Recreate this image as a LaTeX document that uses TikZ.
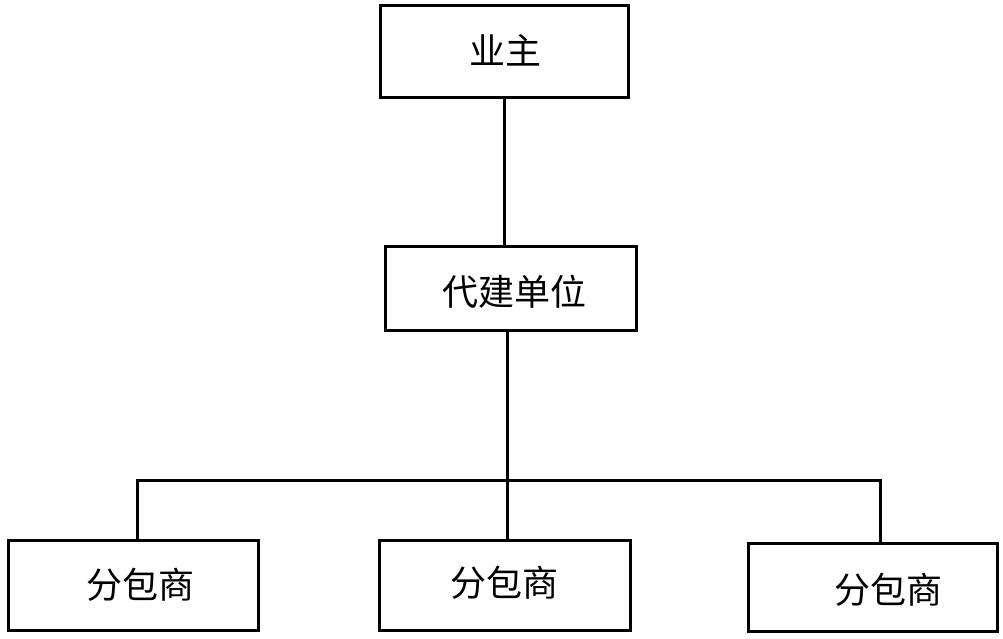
\documentclass[tikz,border=0pt]{standalone}
\usepackage{fontspec}
\setmainfont{Noto Sans CJK SC}
\begin{document}
\begin{tikzpicture}[x=1pt,y=1pt,
  box/.style={draw=black, line width=3pt, minimum width=#1, inner sep=0pt},
  lbl/.style={font=\fontsize{36}{40}\selectfont, inner sep=0pt},
  conn/.style={draw=black, line width=3pt}]
\useasboundingbox (0,0) rectangle (1003,-639);
\node[box=248pt, minimum height=92pt] (top) at (504,-52) {};
\node[box=251pt, minimum height=84pt] (mid) at (510.5,-288) {};
\node[box=250pt, minimum height=90pt] (b1) at (133,-585) {};
\node[box=251pt, minimum height=90pt] (b2) at (504.5,-585) {};
\node[box=249pt, minimum height=88pt] (b3) at (872.5,-587) {};
\node[lbl] (t0) at (505,-50) {业主};
\node[lbl] (t1) at (514,-292) {代建单位};
\node[lbl] (t2) at (140,-585) {分包商};
\node[lbl] (t3) at (504,-583) {分包商};
\node[lbl] (t4) at (888,-590) {分包商};
\draw[conn] (top.south) -- (top.south |- mid.north);
\coordinate (j) at (507,-480);
\coordinate (jl) at (137,-480);
\coordinate (jr) at (880,-480);
\draw[conn] (j |- mid.south) -- (j);
\draw[conn, line cap=rect] (jl) -- (jr);
\draw[conn] (jl) -- (jl |- b1.north);
\draw[conn] (j) -- (j |- b2.north);
\draw[conn] (jr) -- (jr |- b3.north);
\end{tikzpicture}
\end{document}
